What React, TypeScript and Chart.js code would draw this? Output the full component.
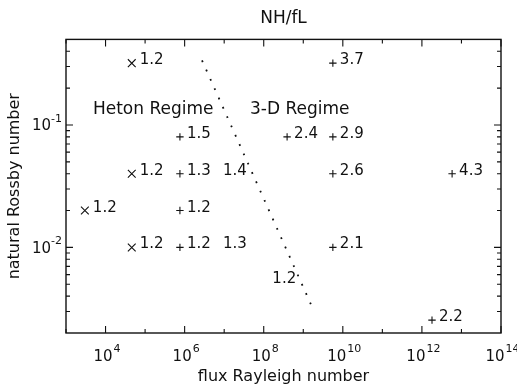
import React, { useEffect, useRef } from "react";
import { Chart, registerables } from "chart.js";

Chart.register(...registerables);

// ---- data ----
// "x" markers (heton cases)
const crossX = [4.6e4, 4.6e4, 3e3, 4.6e4];
const crossY = [0.32, 0.04, 0.02, 0.01];
const crossLabels = ["1.2", "1.2", "1.2", "1.2"];

// "+" markers
const plusX = [7.6e5, 7.6e5, 7.6e5, 7.6e5, 3.9e8, 5.6e9, 5.6e9, 5.6e9, 5.6e9, 5.8e12, 1.8e12];
const plusY = [0.08, 0.04, 0.02, 0.01, 0.08, 0.32, 0.08, 0.04, 0.01, 0.04, 0.00255];
const plusLabels = ["1.5", "1.3", "1.2", "1.2", "2.4", "3.7", "2.9", "2.6", "2.1", "4.3", "2.2"];

// cases printed without a marker
const bareX = [6.2e6, 6.2e6, 1.1e8];
const bareY = [0.04, 0.01, 0.0052];
const bareLabels = ["1.4", "1.3", "1.2"];

// regime boundary (dotted)
const boundaryX = [2.75e6, 1.76e9];
const boundaryY = [0.337, 0.00314];

// regime annotations
const regimeText = ["Heton Regime", "3-D Regime"];
const regimeX = [4.8e3, 4.5e7];
const regimeY = [0.124, 0.124];

// axis ticks
const xTickExps = [4, 6, 8, 10, 12, 14];
const xMinorExps = [3, 5, 7, 9, 11, 13];
const yTickExps = [-1, -2];
const yMinorVals = [
  0.003, 0.004, 0.005, 0.006, 0.007, 0.008, 0.009,
  0.02, 0.03, 0.04, 0.05, 0.06, 0.07, 0.08, 0.09,
  0.2, 0.3, 0.4,
];

const FONT = "'DejaVu Sans', sans-serif";
const INK = "#111";

const overlay = {
  id: "overlay",
  afterDatasetsDraw(chart: any) {
    const ctx = chart.ctx;
    const { left, right, top, bottom } = chart.chartArea;
    const xs = chart.scales.x;
    const ys = chart.scales.y;
    ctx.save();
    ctx.strokeStyle = INK;
    ctx.fillStyle = INK;
    ctx.lineWidth = 1.4;
    ctx.strokeRect(left, top, right - left, bottom - top);

    ctx.lineWidth = 1.1;
    ctx.beginPath();
    const xt = (v: number, len: number) => {
      const px = xs.getPixelForValue(v);
      ctx.moveTo(px, bottom);
      ctx.lineTo(px, bottom - len);
      ctx.moveTo(px, top);
      ctx.lineTo(px, top + len);
    };
    const yt = (v: number, len: number) => {
      const py = ys.getPixelForValue(v);
      ctx.moveTo(left, py);
      ctx.lineTo(left + len, py);
      ctx.moveTo(right, py);
      ctx.lineTo(right - len, py);
    };
    xTickExps.forEach((e) => xt(Math.pow(10, e), 7));
    xMinorExps.forEach((e) => xt(Math.pow(10, e), 4));
    yTickExps.forEach((e) => yt(Math.pow(10, e), 7));
    yMinorVals.forEach((v) => yt(v, 4));
    ctx.stroke();

    // x tick labels: "10" with superscript exponent, whole label centred on tick
    ctx.textBaseline = "alphabetic";
    ctx.textAlign = "left";
    xTickExps.forEach((e) => {
      const px = xs.getPixelForValue(Math.pow(10, e));
      ctx.font = `15px ${FONT}`;
      const w = ctx.measureText("10").width;
      ctx.font = `11px ${FONT}`;
      const sw = ctx.measureText(String(e)).width;
      const x0 = px - (w + 1 + sw) / 2 + 1.5;
      ctx.font = `15px ${FONT}`;
      ctx.fillText("10", x0, bottom + 27.5);
      ctx.font = `11px ${FONT}`;
      ctx.fillText(String(e), x0 + w + 1, bottom + 19);
    });

    // y tick labels
    yTickExps.forEach((e) => {
      const py = ys.getPixelForValue(Math.pow(10, e));
      ctx.font = `11px ${FONT}`;
      ctx.textAlign = "right";
      const sup = String(e);
      const sw = ctx.measureText(sup).width;
      const xr = left - 4;
      ctx.fillText(sup, xr, py - 3);
      ctx.font = `15px ${FONT}`;
      ctx.fillText("10", xr - sw, py + 5.5);
    });

    // point labels
    ctx.font = `15px ${FONT}`;
    ctx.textAlign = "left";
    const lab = (xv: number[], yv: number[], t: string[], dx: number) => {
      t.forEach((s, i) => {
        const px = xs.getPixelForValue(xv[i]);
        const py = ys.getPixelForValue(yv[i]);
        ctx.fillText(s, px + dx, py + 1);
      });
    };
    lab(crossX, crossY, crossLabels, 8);
    lab(plusX, plusY, plusLabels, 7);
    lab(bareX, bareY, bareLabels, 7);

    // regime annotations
    ctx.font = `17px ${FONT}`;
    regimeText.forEach((s, i) => {
      ctx.fillText(s, xs.getPixelForValue(regimeX[i]), ys.getPixelForValue(regimeY[i]));
    });
    ctx.restore();
  },
};

export default function App() {
  const ref = useRef<HTMLCanvasElement | null>(null);
  useEffect(() => {
    document.body.style.margin = "0";
    const canvas = ref.current!;
    const pts = (xv: number[], yv: number[]) => xv.map((x, i) => ({ x, y: yv[i] }));
    const chart = new Chart(canvas, {
      type: "scatter",
      data: {
        datasets: [
          {
            label: "heton",
            data: pts(crossX, crossY),
            pointStyle: "crossRot",
            pointRadius: 5.5,
            pointBorderWidth: 1.1,
            borderColor: INK,
            backgroundColor: INK,
          },
          {
            label: "3-D",
            data: pts(plusX, plusY),
            pointStyle: "cross",
            pointRadius: 3.7,
            pointBorderWidth: 1.1,
            borderColor: INK,
            backgroundColor: INK,
          },
          {
            label: "unmarked",
            data: pts(bareX, bareY),
            pointRadius: 0,
          },
          {
            label: "boundary",
            data: pts(boundaryX, boundaryY),
            showLine: true,
            pointRadius: 0,
            borderColor: INK,
            borderWidth: 1.8,
            borderDash: [1.8, 8.4],
          },
        ],
      } as any,
      options: {
        responsive: false,
        animation: false,
        layout: { padding: { left: 0, right: 16, top: 0, bottom: 0 } },
        plugins: {
          legend: { display: false },
          tooltip: { enabled: false },
          title: {
            display: true,
            text: "NH/fL",
            fullSize: false,
            color: INK,
            font: { family: FONT, size: 17, weight: "normal" },
            padding: { top: 8, bottom: 11 },
          },
        },
        scales: {
          x: {
            type: "logarithmic",
            min: 1e3,
            max: 1e14,
            grid: { display: false },
            border: { display: false },
            ticks: { display: false },
            title: {
              display: true,
              text: "flux Rayleigh number",
              color: INK,
              font: { family: FONT, size: 16 },
              padding: { top: 0, bottom: 0 },
            },
            afterFit: (s: any) => {
              s.height = 53;
            },
          },
          y: {
            type: "logarithmic",
            min: 0.002,
            max: 0.5,
            grid: { display: false },
            border: { display: false },
            ticks: { display: false },
            title: {
              display: true,
              text: "natural Rossby number",
              color: INK,
              font: { family: FONT, size: 16 },
              padding: { top: 5, bottom: 0 },
            },
            afterFit: (s: any) => {
              s.width = 66;
            },
          },
        },
      } as any,
      plugins: [overlay],
    });
    return () => chart.destroy();
  }, []);
  return (
    <div style={{ width: 517, height: 386 }}>
      <canvas ref={ref} width={517} height={386} style={{ display: "block" }} />
    </div>
  );
}
